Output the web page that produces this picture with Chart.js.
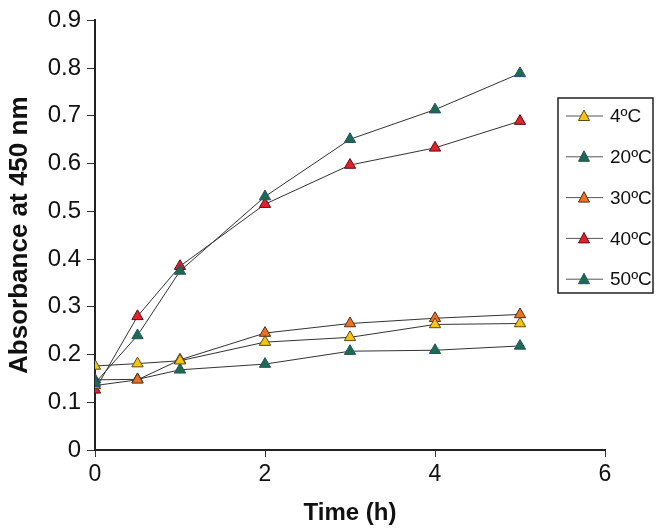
<!DOCTYPE html>
<html>
<head>
<meta charset="utf-8">
<script src="https://cdn.jsdelivr.net/npm/chart.js@4"></script>
<style>
  html, body { margin: 0; padding: 0; background: #fff; }
  #wrap { width: 662px; height: 532px; position: relative; }
</style>
</head>
<body>
<div id="wrap"><canvas id="absChart"></canvas></div>
<script>
// time points (h)
const hours = [0, 0.5, 1, 2, 3, 4, 5];

// absorbance at 450 nm for each temperature
const abs4 = [0.176, 0.181, 0.187, 0.226, 0.236, 0.263, 0.265];
const abs20 = [0.140, 0.240, 0.375, 0.531, 0.651, 0.713, 0.789];
const abs30 = [0.135, 0.147, 0.189, 0.245, 0.265, 0.276, 0.284];
const abs40 = [0.126, 0.280, 0.385, 0.515, 0.597, 0.633, 0.689];
const abs50 = [0.147, 0.148, 0.168, 0.180, 0.207, 0.209, 0.218];

const seriesNames = ['4ºC', '20ºC', '30ºC', '40ºC', '50ºC'];
const fills = ['#f6c313', '#1b6b4c', '#ea7125', '#e3202b', '#1b6b4c'];
const borders = ['#5a4a10', '#2b4f70', '#5a2a10', '#5a1010', '#2b4f70'];

const yTicks = [0, 0.1, 0.2, 0.3, 0.4, 0.5, 0.6, 0.7, 0.8, 0.9];
const xTicks = [0, 2, 4, 6];

function toPoints(vals) {
  return vals.map((v, i) => ({ x: hours[i], y: v }));
}

const allSeries = [abs4, abs20, abs30, abs40, abs50];
const datasets = allSeries.map((vals, i) => ({
  label: seriesNames[i],
  data: toPoints(vals),
  borderColor: '#333',
  borderWidth: 1,
  pointStyle: 'triangle',
  pointRadius: 6.5,
  pointBackgroundColor: fills[i],
  pointBorderColor: borders[i],
  pointBorderWidth: 1,
  tension: 0,
  fill: false
}));

// legend box on the right, drawn by hand
const boxLegend = {
  id: 'boxLegend',
  afterDraw(chart) {
    const c = chart.ctx;
    const left = 558, top = 98, w = 95, h = 195;
    c.save();
    c.strokeStyle = '#222';
    c.lineWidth = 1.5;
    c.strokeRect(left, top, w, h);
    c.font = '19px "Liberation Sans", Arial, sans-serif';
    c.textBaseline = 'middle';
    chart.data.datasets.forEach((ds, i) => {
      const yy = top + 18 + i * 40.8;
      c.strokeStyle = '#555';
      c.lineWidth = 1;
      c.beginPath();
      c.moveTo(566, yy);
      c.lineTo(603, yy);
      c.stroke();
      c.fillStyle = ds.pointBackgroundColor;
      c.strokeStyle = ds.pointBorderColor;
      c.beginPath();
      c.moveTo(584, yy - 6);
      c.lineTo(589.5, yy + 4.5);
      c.lineTo(578.5, yy + 4.5);
      c.closePath();
      c.fill();
      c.stroke();
      c.fillStyle = '#111';
      c.fillText(ds.label, 610, yy + 1);
    });
    c.restore();
  }
};

const ctx = document.getElementById('absChart').getContext('2d');
const absChart = new Chart(ctx, {
  type: 'line',
  data: { datasets: datasets },
  plugins: [boxLegend],
  options: {
    animation: false,
    responsive: true,
    maintainAspectRatio: false,
    layout: { padding: { top: 11, right: 57, left: 0, bottom: 0 } },
    plugins: {
      legend: { display: false },
      tooltip: { enabled: false }
    },
    scales: {
      x: {
        type: 'linear',
        min: 0,
        max: 6,
        afterFit: s => { s.height = 82; },
        afterBuildTicks: s => { s.ticks = xTicks.map(v => ({ value: v })); },
        grid: {
          display: true,
          drawOnChartArea: false,
          drawTicks: true,
          tickLength: 7,
          color: '#333',
          lineWidth: 1
        },
        border: { display: true, color: '#222', width: 2 },
        ticks: {
          color: '#111',
          font: { family: '"Liberation Sans", Arial, sans-serif', size: 23 },
          padding: 4,
          maxRotation: 0
        },
        title: {
          display: true,
          text: 'Time (h)',
          color: '#111',
          font: { family: '"Liberation Sans", Arial, sans-serif', size: 24, weight: 'bold' },
          padding: { top: 6 }
        }
      },
      y: {
        min: 0,
        max: 0.9,
        afterFit: s => { s.width = 95; },
        afterBuildTicks: s => { s.ticks = yTicks.map(v => ({ value: v })); },
        grid: {
          display: true,
          drawOnChartArea: false,
          drawTicks: true,
          tickLength: 8,
          color: '#333',
          lineWidth: 1
        },
        border: { display: true, color: '#222', width: 2 },
        ticks: {
          color: '#111',
          font: { family: '"Liberation Sans", Arial, sans-serif', size: 24 },
          padding: 6,
          callback: v => String(Math.round(v * 10) / 10)
        },
        title: {
          display: true,
          text: 'Absorbance at 450 nm',
          color: '#111',
          font: { family: '"Liberation Sans", Arial, sans-serif', size: 26, weight: 'bold' },
          padding: { bottom: 2 }
        }
      }
    }
  }
});
</script>
</body>
</html>
